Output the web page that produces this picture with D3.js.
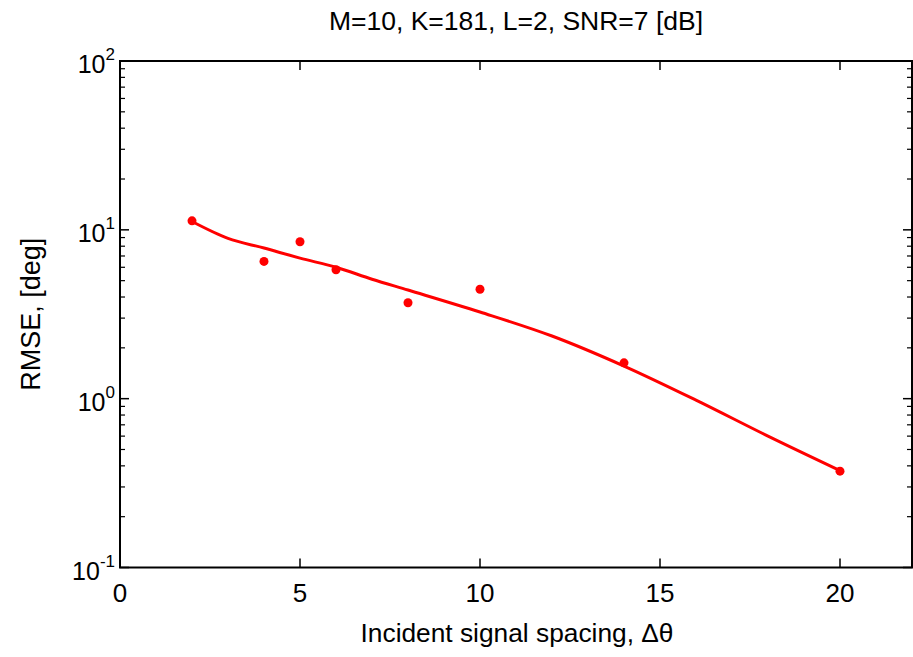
<!DOCTYPE html>
<html>
<head>
<meta charset="utf-8">
<script src="https://cdn.jsdelivr.net/npm/d3@7"></script>
<style>
  body { margin: 0; background: #fff; }
  svg { display: block; }
  text { font-family: "Liberation Sans", Arial, sans-serif; fill: #000; }
</style>
</head>
<body>
<svg id="chart" width="913" height="657"></svg>
<script>
// measured points
const spacing = [2, 4, 5, 6, 8, 10, 14, 20];
const rmse = [11.3, 6.5, 8.5, 5.8, 3.7, 4.45, 1.63, 0.372];

// fitted curve
const fitX = [2, 3, 4, 5, 6, 7, 8, 10, 12, 14, 16, 18, 20];
const fitY = [11.2, 8.9, 7.8, 6.8, 6.0, 5.1, 4.4, 3.26, 2.35, 1.56, 0.98, 0.60, 0.375];

const xTicks = [0, 5, 10, 15, 20];
const yExps = [-1, 0, 1, 2];

const title = 'M=10, K=181, L=2, SNR=7 [dB]';
const xLabel = 'Incident signal spacing, \u0394\u03b8';
const yLabel = 'RMSE, [deg]';

const svg = d3.select('#chart');
const plotL = 120, plotR = 912, plotT = 61, plotB = 567.5;

const x = d3.scaleLinear().domain([0, 22]).range([plotL, plotR]);
const y = d3.scaleLog().domain([0.1, 100]).range([plotB, plotT]);

const g = svg.append('g');

// minor y ticks
const minor = [];
for (let e = -1; e < 2; e++)
	for (let m = 2; m <= 9; m++) minor.push(m * Math.pow(10, e));

g.selectAll('.minorL').data(minor).enter().append('line')
	.attr('x1', plotL).attr('x2', plotL + 5)
	.attr('y1', (d) => y(d)).attr('y2', (d) => y(d))
	.attr('stroke', '#000').attr('stroke-width', 1.2);
g.selectAll('.minorR').data(minor).enter().append('line')
	.attr('x1', plotR).attr('x2', plotR - 5)
	.attr('y1', (d) => y(d)).attr('y2', (d) => y(d))
	.attr('stroke', '#000').attr('stroke-width', 1.2);

// major y ticks
g.selectAll('.majL').data(yExps).enter().append('line')
	.attr('x1', plotL).attr('x2', plotL + 9)
	.attr('y1', (d) => y(Math.pow(10, d))).attr('y2', (d) => y(Math.pow(10, d)))
	.attr('stroke', '#000').attr('stroke-width', 1.5);
g.selectAll('.majR').data(yExps).enter().append('line')
	.attr('x1', plotR).attr('x2', plotR - 9)
	.attr('y1', (d) => y(Math.pow(10, d))).attr('y2', (d) => y(Math.pow(10, d)))
	.attr('stroke', '#000').attr('stroke-width', 1.5);

// x ticks bottom and top
g.selectAll('.xb').data(xTicks).enter().append('line')
	.attr('x1', (d) => x(d)).attr('x2', (d) => x(d))
	.attr('y1', plotB).attr('y2', plotB - 9)
	.attr('stroke', '#000').attr('stroke-width', 1.5);
g.selectAll('.xt').data(xTicks).enter().append('line')
	.attr('x1', (d) => x(d)).attr('x2', (d) => x(d))
	.attr('y1', plotT).attr('y2', plotT + 9)
	.attr('stroke', '#000').attr('stroke-width', 1.5);

// frame
g.append('rect')
	.attr('x', plotL).attr('y', plotT)
	.attr('width', plotR - plotL).attr('height', plotB - plotT)
	.attr('fill', 'none').attr('stroke', '#000').attr('stroke-width', 2);

// x tick labels
g.selectAll('.xl').data(xTicks).enter().append('text')
	.attr('x', (d) => x(d)).attr('y', plotB + 34)
	.attr('text-anchor', 'middle')
	.style('font-size', '26px')
	.text((d) => d);

// y tick labels
const yl = g.selectAll('.yl').data(yExps).enter().append('text')
	.attr('x', plotL - 5).attr('y', (d) => y(Math.pow(10, d)) + 12)
	.attr('text-anchor', 'end')
	.style('font-size', '25px');
yl.append('tspan').text('10');
yl.append('tspan').attr('dy', -13).style('font-size', '17px').text((d) => d);

// titles
svg.append('text').attr('x', (plotL + plotR) / 2).attr('y', 30)
	.attr('text-anchor', 'middle').style('font-size', '26.5px').text(title);
svg.append('text').attr('x', (plotL + plotR) / 2 + 1).attr('y', 642)
	.attr('text-anchor', 'middle').style('font-size', '26.3px').text(xLabel);
svg.append('text')
	.attr('transform', 'translate(40,' + ((plotT + plotB) / 2) + ') rotate(-90)')
	.attr('text-anchor', 'middle').style('font-size', '27px').text(yLabel);

// fitted curve
const line = d3.line()
	.x((d, i) => x(fitX[i]))
	.y((d) => y(d))
	.curve(d3.curveMonotoneX);
g.append('path').datum(fitY)
	.attr('d', line)
	.attr('fill', 'none').attr('stroke', '#ff0000').attr('stroke-width', 3);

// points
g.selectAll('.pt').data(rmse).enter().append('circle')
	.attr('cx', (d, i) => x(spacing[i]))
	.attr('cy', (d) => y(d))
	.attr('r', 4.5)
	.attr('fill', '#ff0000');
</script>
</body>
</html>
